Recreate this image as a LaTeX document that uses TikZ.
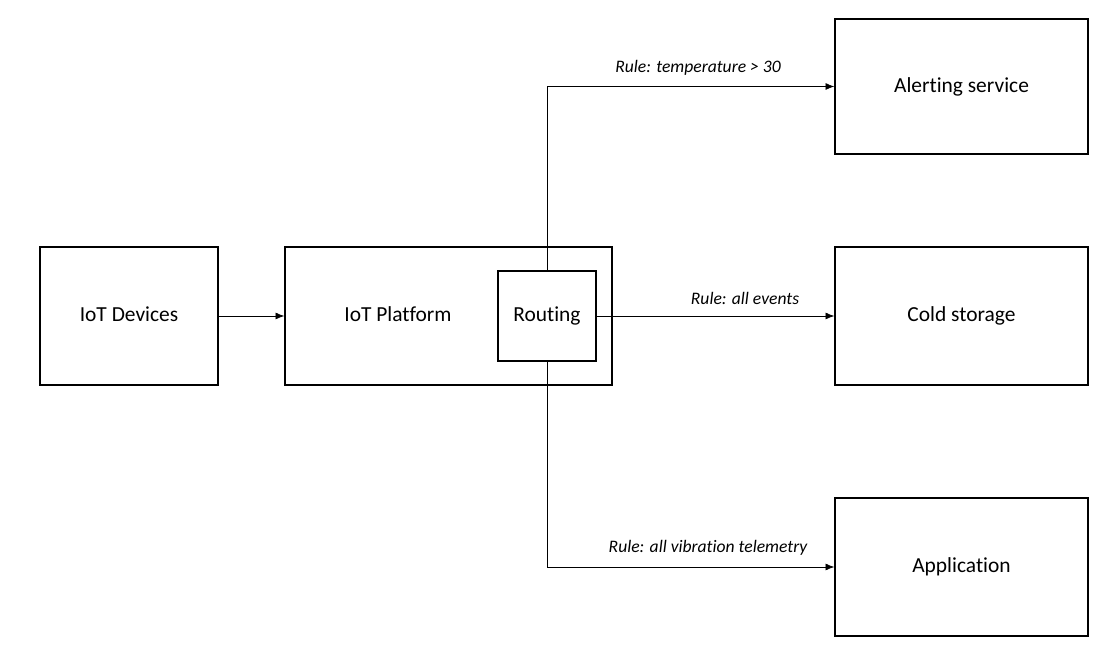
\documentclass[tikz,border=0pt]{standalone}
\usepackage{fontspec}
\setmainfont[Ligatures=NoCommon]{Carlito}
\usetikzlibrary{arrows.meta}

\begin{document}
\begin{tikzpicture}[x=0.02cm, y=-0.02cm]

% Styles for boxes and arrows
\tikzset{box/.style={draw, thick, inner sep=0pt, text height=1.35ex, text depth=0pt,
                     font=\fontsize{12.2}{14}\selectfont},
         rulelabel/.style={font=\itshape\fontsize{10}{12}\selectfont, inner sep=1pt},
         arr/.style={-{Latex[length=5pt, width=4pt]}, thin}
        }

\useasboundingbox (0,0) rectangle (1113,658);

% Left side
\node[box, minimum width=178*0.02cm, minimum height=138*0.02cm] (devices) at (129,316) {IoT Devices};
\node[box, minimum width=327*0.02cm, minimum height=138*0.02cm] (platform) at (448.5,316) {};
\node[box, draw=none] (platformtxt) at (398,316) {IoT Platform};
\node[box, minimum width=98*0.02cm, minimum height=90*0.02cm] (routing) at (547,316) {Routing};

% Right side targets
\node[box, minimum width=253*0.02cm, minimum height=135*0.02cm] (alert) at (961.5,86.5) {Alerting service};
\node[box, minimum width=253*0.02cm, minimum height=138*0.02cm] (cold) at (961.5,316) {Cold storage};
\node[box, minimum width=253*0.02cm, minimum height=138*0.02cm] (app) at (961.5,567) {Application};

% Connectors
\draw[arr] (devices) -- (platform);
\draw[arr] (routing.north) |- (alert.west);
\draw[arr] (routing) -- (cold);
\draw[arr] (routing.south) |- (app.west);

% Rule labels
\node[rulelabel] (rulealert) at (698,68) {Rule: temperature > 30};
\node[rulelabel] (rulecold) at (745,298) {Rule: all events};
\node[rulelabel] (ruleapp) at (708,548) {Rule: all vibration telemetry};

\end{tikzpicture}
\end{document}
